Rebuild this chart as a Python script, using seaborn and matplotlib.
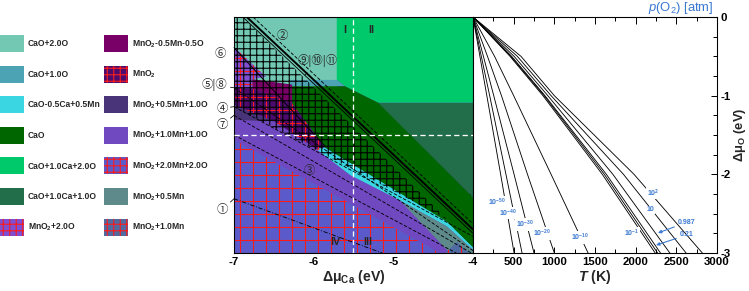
import numpy as np
import pandas as pd
import seaborn as sns
import matplotlib.pyplot as plt
from matplotlib.patches import Patch
from matplotlib.ticker import MultipleLocator, FixedLocator

# ---- phase regions (dmu_Ca, dmu_O) ----
reg_cao_2o = [(-7, 0), (-5.71, 0), (-5.71, -0.90), (-7, -0.90)]
reg_cao_ca_2o = [(-5.71, 0), (-4, 0), (-4, -1.09), (-5.19, -1.09), (-5.61, -0.88), (-5.71, -0.80)]
reg_cao_1o = [(-6.30, -0.80), (-5.71, -0.80), (-5.61, -0.88), (-6.30, -0.88)]
reg_cao_ca_1o = [(-5.19, -1.09), (-4, -1.09), (-4, -2.29)]
reg_cao = [(-6.30, -0.88), (-5.61, -0.88), (-5.19, -1.09), (-4, -2.29), (-4, -2.93),
           (-4.33, -2.61), (-5.86, -1.66), (-6.27, -1.10)]
reg_mno2_2o = [(-7, -0.38), (-6.60, -0.76), (-6.77, -0.79), (-6.77, -0.91), (-7, -0.91)]
reg_mno2_mn_o = [(-6.77, -0.79), (-6.27, -0.86), (-6.27, -1.10), (-6.52, -1.00), (-6.77, -0.91)]
reg_mno2 = [(-7, -0.90), (-6.77, -0.91), (-6.52, -1.00), (-6.27, -1.10), (-5.86, -1.66),
            (-5.95, -1.69), (-6.49, -1.33), (-7, -1.12)]
reg_mno2_05mn_1o = [(-7, -1.12), (-6.49, -1.33), (-7, -1.31)]
reg_mno2_1mn_1o = [(-7, -1.31), (-6.49, -1.33), (-5.95, -1.69), (-4.92, -2.33),
                   (-4.29, -3.0), (-4.41, -3.0), (-7, -1.56)]
reg_cao_ca_mn = [(-5.95, -1.67), (-5.86, -1.66), (-4.33, -2.60), (-4, -2.93), (-4, -2.96),
                 (-4.33, -2.66), (-4.92, -2.33), (-5.54, -2.01), (-5.95, -1.69)]
reg_mno2_05mn = [(-4.92, -2.33), (-4.33, -2.66), (-4, -2.96), (-4, -3.0), (-4.29, -3.0)]
reg_mno2_2mn_2o = [(-7, -1.56), (-4.41, -3.0), (-7, -3.0)]
reg_mno2_1mn = [(-4.35, -3.0), (-4.20, -2.86), (-4.05, -3.0)]
reg_grid = [(-7, 0), (-6.89, 0), (-4.33, -2.57), (-7, -1.14)]

legend_names = ['CaO+2.0O', 'CaO+1.0O', 'CaO-0.5Ca+0.5Mn', 'CaO', 'CaO+1.0Ca+2.0O',
                'CaO+1.0Ca+1.0O', 'MnO$_2$+2.0O',
                'MnO$_2$-0.5Mn-0.5O', 'MnO$_2$', 'MnO$_2$+0.5Mn+1.0O', 'MnO$_2$+1.0Mn+1.0O',
                'MnO$_2$+2.0Mn+2.0O', 'MnO$_2$+0.5Mn', 'MnO$_2$+1.0Mn']
legend_colors = ['#72C8B2', '#4BA3B3', '#3AD6E2', '#006600', '#00C96C', '#226E4A', '#7E4FD2',
                 '#780067', '#4C0C6E', '#4A3479', '#7049C0', '#5A5ACB', '#5E8A8C', '#4F6BA2']
legend_red = [False, False, False, False, False, False, True,
              False, True, False, False, True, False, True]

# drawing order of the regions
regions = [reg_cao_2o, reg_cao_ca_2o, reg_cao_1o, reg_cao_ca_1o, reg_cao, reg_mno2_2o,
           reg_mno2_mn_o, reg_mno2, reg_mno2_05mn_1o, reg_mno2_1mn_1o, reg_cao_ca_mn,
           reg_mno2_05mn, reg_mno2_2mn_2o, reg_mno2_1mn]
region_colors = ['#72C8B2', '#00C96C', '#4BA3B3', '#226E4A', '#006600', '#7E4FD2',
                 '#780067', '#4C0C6E', '#4A3479', '#7049C0', '#3AD6E2',
                 '#5E8A8C', '#5A5ACB', '#4F6BA2']
region_red = [False, False, False, False, False, True,
              False, True, False, False, False, False, True, True]

# boundary lines (two end points each)
ln_solid = [(-6.89, 0), (-4, -2.75)]
ln_thick = [(-6.84, 0), (-4, -2.70)]
ln_dash2 = [(-6.76, 0), (-4, -2.63)]
ln_6 = [(-7, -0.39), (-5.86, -1.64)]
ln_58 = [(-7, -0.90), (-4, -2.97)]
ln_4 = [(-7, -1.14), (-4, -2.79)]
ln_7 = [(-7, -1.25), (-4.02, -3.0)]
ln_3 = [(-7, -1.50), (-4.21, -3.0)]
ln_1 = [(-7, -2.31), (-5.14, -3.0)]

# ---- right panel: T at which each p(O2) line reaches these dmu_O values ----
mu_pts = [0, -0.5, -1.0, -2.0, -3.0]
t_1e_50 = [0, 85, 170, 340, 505]
t_1e_40 = [0, 102, 205, 405, 603]
t_1e_30 = [0, 128, 255, 505, 750]
t_1e_20 = [0, 178, 350, 670, 1000]
t_1e_10 = [0, 265, 500, 960, 1415]
t_1e_1 = [0, 455, 860, 1590, 2240]
t_1e_05 = [0, 465, 875, 1615, 2270]
t_0_21 = [0, 475, 885, 1640, 2305]
t_0_987 = [0, 505, 920, 1720, 2420]
t_10 = [0, 545, 960, 1850, 2620]
t_100 = [0, 590, 1000, 1980, 2820]
p_names = ['1e-50', '1e-40', '1e-30', '1e-20', '1e-10', '1e-1', '1e-0.5', '0.21', '0.987', '10', '100']
p_temps = [t_1e_50, t_1e_40, t_1e_30, t_1e_20, t_1e_10, t_1e_1, t_1e_05, t_0_21, t_0_987, t_10, t_100]

p_labels = ['10$^{-50}$', '10$^{-40}$', '10$^{-30}$', '10$^{-20}$', '10$^{-10}$', '10$^{-1}$', '10', '10$^{2}$']
p_label_t = [295, 430, 640, 850, 1316, 1956, 2177, 2214]
p_label_mu = [-2.36, -2.49, -2.64, -2.75, -2.80, -2.75, -2.45, -2.24]

rows = []
for name, temps in zip(p_names, p_temps):
    for t, m in zip(temps, mu_pts):
        rows.append({'p': name, 'T': t, 'mu': m})
df = pd.DataFrame(rows)

# ---- style ----
sns.set_style('ticks')
plt.rcParams['font.family'] = ['Liberation Sans', 'DejaVu Sans', 'Noto Sans CJK JP']
plt.rcParams['font.weight'] = 'bold'
plt.rcParams['axes.labelweight'] = 'bold'
plt.rcParams['axes.unicode_minus'] = False
plt.rcParams['mathtext.default'] = 'regular'
plt.rcParams['mathtext.fontset'] = 'custom'
plt.rcParams['mathtext.rm'] = 'Liberation Sans:weight=normal'
plt.rcParams['mathtext.it'] = 'Liberation Sans:style=italic:weight=normal'
plt.rcParams['mathtext.bf'] = 'Liberation Sans:weight=bold'
plt.rcParams['mathtext.bfit'] = 'Liberation Sans:style=italic:weight=bold'
plt.rcParams['hatch.linewidth'] = 1.0
plt.rcParams['axes.edgecolor'] = 'black'
plt.rcParams['xtick.color'] = 'black'
plt.rcParams['ytick.color'] = 'black'

DPI = 78
fig = plt.figure(figsize=(749 / DPI, 291 / DPI), dpi=DPI)
axl = fig.add_axes([234 / 749, 1 - 253 / 291, 239 / 749, 236 / 291])
axr = fig.add_axes([473 / 749, 1 - 253 / 291, 244 / 749, 236 / 291])

RED = '#FF1A1A'
circ_font = ['Noto Sans CJK JP', 'DejaVu Sans']

# left panel
axl.set_facecolor('#7049C0')
for poly, col, red in zip(regions, region_colors, region_red):
    xs, ys = zip(*poly)
    axl.fill(xs, ys, color=col, lw=0, zorder=1)
    if red:
        axl.fill(xs, ys, facecolor='none', edgecolor=RED, hatch='+', lw=0, zorder=2)
gx, gy = zip(*reg_grid)
axl.fill(gx, gy, facecolor='none', edgecolor='black', hatch='++', lw=0, zorder=3)

for ln, ls, lw in [(ln_solid, '-', 0.8), (ln_thick, '-', 1.8), (ln_dash2, (0, (4, 2)), 0.8),
                   (ln_6, '-', 0.9), (ln_58, (0, (4, 2)), 0.8), (ln_4, (0, (4, 2)), 0.8),
                   (ln_7, (0, (4, 2)), 0.8), (ln_3, (0, (4, 2)), 0.8), (ln_1, (0, (5, 2, 1, 2)), 0.8)]:
    xs, ys = zip(*ln)
    axl.plot(xs, ys, color='black', ls=ls, lw=lw, zorder=4)

axl.axvline(-5.5, color='white', ls=(0, (4, 2.5)), lw=1.2, zorder=5)
axl.axhline(-1.5, color='white', ls=(0, (4, 2.5)), lw=1.2, zorder=5)

for txt, x, y in [('I', -5.61, -0.17), ('II', -5.28, -0.17), ('IV', -5.73, -2.86), ('III', -5.32, -2.86)]:
    axl.text(x, y, txt, fontsize=10, ha='center', va='center', zorder=6)

axl.text(-6.40, -0.23, '②', family=circ_font, fontweight='normal', fontsize=10.5, ha='center', va='center', zorder=6)
axl.text(-6.05, -1.945, '③', family=circ_font, fontweight='normal', fontsize=10.5, ha='center', va='center', zorder=6)
axl.annotate('⑨|⑩|⑪', xy=(-6.11, -0.74), xytext=(-5.95, -0.55), family=circ_font, fontweight='normal',
             fontsize=10.5, ha='center', va='center', zorder=6,
             arrowprops=dict(arrowstyle='-', color='black', lw=0.7, shrinkA=4, shrinkB=0))
for txt, tx, ty, px, py in [('⑥', -7.17, -0.46, -7, -0.39), ('⑤|⑧', -7.24, -0.86, -7, -0.90),
                            ('④', -7.15, -1.16, -7, -1.14), ('⑦', -7.15, -1.37, -7, -1.25),
                            ('①', -7.15, -2.45, -7, -2.31)]:
    axl.annotate(txt, xy=(px, py), xytext=(tx, ty), family=circ_font, fontweight='normal',
                 fontsize=10.5, ha='center', va='center', annotation_clip=False,
                 arrowprops=dict(arrowstyle='-', color='black', lw=0.7, shrinkA=5, shrinkB=0))

axl.set_xlim(-7, -4)
axl.set_ylim(-3, 0)
axl.xaxis.set_major_locator(MultipleLocator(1))
axl.xaxis.set_minor_locator(MultipleLocator(0.5))
axl.yaxis.set_major_locator(MultipleLocator(0.5))
axl.yaxis.set_minor_locator(MultipleLocator(0.25))
axl.tick_params(axis='x', which='both', direction='in', top=True, bottom=True, labelsize=10.5, pad=4)
axl.tick_params(axis='y', which='both', direction='in', left=False, right=True, labelleft=False)
axl.tick_params(which='major', length=6, width=0.9)
axl.tick_params(which='minor', length=4, width=0.9)
axl.set_xlabel('Δμ$_{Ca}$ (eV)', fontsize=13, labelpad=1)
axl.set_ylabel('')
for s in axl.spines.values():
    s.set_linewidth(1.0)

# right panel
sns.lineplot(data=df, x='T', y='mu', units='p', estimator=None, sort=False,
             color='black', lw=0.8, ax=axr, legend=False)
BLUE = '#3A78D0'
for txt, t, m in zip(p_labels, p_label_t, p_label_mu):
    axr.text(t, m, txt, color=BLUE, fontsize=6.5, ha='center', va='center',
             bbox=dict(fc='white', ec='none', pad=0.6))
axr.annotate('0.987', xy=(2275, -2.745), xytext=(2521, -2.61), color=BLUE, fontsize=6.5,
             ha='left', va='center',
             arrowprops=dict(arrowstyle='-|>', color=BLUE, lw=1.0, mutation_scale=6, shrinkA=1, shrinkB=0))
axr.annotate('0.21', xy=(2251, -2.90), xytext=(2546, -2.77), color=BLUE, fontsize=6.5,
             ha='left', va='center',
             arrowprops=dict(arrowstyle='-|>', color=BLUE, lw=1.0, mutation_scale=6, shrinkA=1, shrinkB=0))

axr.set_xlim(0, 3000)
axr.set_ylim(-3, 0)
axr.xaxis.set_major_locator(FixedLocator([500, 1000, 1500, 2000, 2500, 3000]))
axr.xaxis.set_minor_locator(MultipleLocator(250))
axr.yaxis.set_major_locator(MultipleLocator(1))
axr.yaxis.set_minor_locator(MultipleLocator(0.25))
axr.tick_params(axis='x', which='both', direction='in', top=True, bottom=True, labelsize=10.5, pad=4)
axr.tick_params(axis='y', which='both', direction='in', left=False, right=True,
                labelleft=False, labelright=True, labelsize=10.5, pad=3)
axr.tick_params(which='major', length=6, width=0.9)
axr.tick_params(which='minor', length=4, width=0.9)
axr.set_xlabel('$\\mathbfit{T}$ (K)', fontsize=13, labelpad=1)
axr.set_ylabel('')
axr.text(1 + 23 / 244, 0.5, 'Δμ$_{O}$ (eV)', transform=axr.transAxes, fontsize=12,
         fontweight='bold', rotation=90, ha='center', va='center')
axr.text(0.984, 1.025, '$\\mathit{p}$(O$_2$) [atm]', transform=axr.transAxes, color=BLUE,
         fontsize=12, fontweight='normal', ha='right', va='baseline')
for s in axr.spines.values():
    s.set_linewidth(1.0)

# legend
handles = []
for name, col, red in zip(legend_names, legend_colors, legend_red):
    if red:
        handles.append(Patch(facecolor=col, edgecolor=RED, hatch='++', lw=0, label=name))
    else:
        handles.append(Patch(facecolor=col, edgecolor='none', lw=0, label=name))
fig.legend(handles=handles, loc='upper left', bbox_to_anchor=(0.0, 1 - 35 / 291), ncol=2,
           frameon=False, fontsize=7.9, handlelength=2.79, handleheight=2.68,
           labelspacing=1.59, handletextpad=0.46, columnspacing=0.4,
           borderpad=0, borderaxespad=0)

fig.savefig('out.png', dpi=DPI)
